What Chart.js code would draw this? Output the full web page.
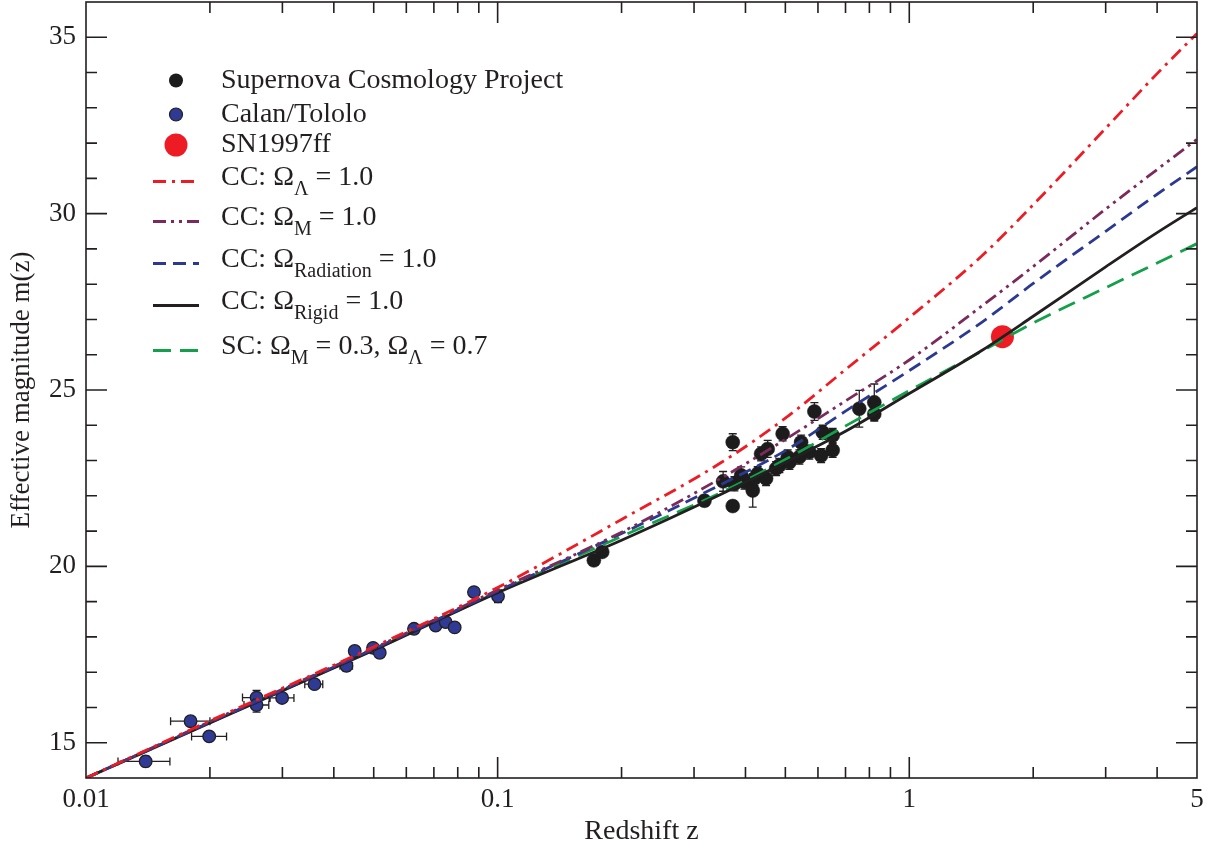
<!DOCTYPE html>
<html>
<head>
<meta charset="utf-8">
<title>Effective magnitude vs redshift</title>
<script src="https://cdn.jsdelivr.net/npm/chart.js@4.4.1/dist/chart.umd.min.js"></script>
<style>
  html, body { margin: 0; padding: 0; background: #fff; }
</style>
</head>
<body>
<canvas id="hubbleChart" width="1208" height="848"></canvas>
<script>
// model curves at these redshifts
const curveZ      = [0.01, 0.02, 0.05, 0.1, 0.2, 0.35, 0.5, 0.7, 1, 1.5, 2, 3, 4, 5];
const ccLambda    = [14.0, 15.62, 17.72, 19.40, 21.33, 22.95, 24.20, 25.58, 27.05, 28.80, 30.25, 32.42, 33.97, 35.11];
const ccMatter    = [14.0, 15.60, 17.68, 19.33, 20.97, 22.51, 23.60, 24.69, 25.85, 27.38, 28.50, 30.13, 31.25, 32.11];
const ccRadiation = [14.0, 15.58, 17.66, 19.30, 20.93, 22.33, 23.28, 24.40, 25.55, 26.92, 28.02, 29.50, 30.55, 31.33];
const ccRigid     = [14.0, 15.56, 17.62, 19.25, 20.74, 22.05, 22.95, 23.83, 24.90, 26.12, 27.09, 28.49, 29.46, 30.17];
const scModel     = [14.0, 15.57, 17.64, 19.27, 20.85, 22.10, 23.03, 23.98, 24.98, 26.10, 26.90, 27.90, 28.60, 29.15];

// Supernova Cosmology Project
const scpZ   = [0.1713, 0.1795, 0.318, 0.353, 0.3725, 0.3725, 0.376, 0.3905, 0.3978, 0.4166, 0.4206, 0.4284, 0.4365,
                0.4489, 0.4529, 0.4747, 0.4835, 0.4925, 0.5066, 0.5114, 0.5408, 0.546, 0.5719, 0.5882, 0.6107,
                0.6162, 0.6514, 0.6514, 0.756, 0.8222, 0.8222];
const scpM   = [20.17, 20.41, 21.86, 22.41, 23.52, 21.71, 22.34, 22.58, 22.39, 22.15, 22.49, 22.63, 23.19,
                22.49, 23.33, 22.77, 22.86, 23.76, 23.10, 22.95, 23.10, 23.52, 23.24, 24.39, 23.14,
                23.80, 23.71, 23.29, 24.47, 24.65, 24.32];
const scpErr = [0.12, 0.12, 0.15, 0.28, 0.24, 0.15, 0.20, 0.24, 0.20, 0.47, 0.20, 0.20, 0.20,
                0.20, 0.24, 0.20, 0.20, 0.20, 0.20, 0.20, 0.20, 0.20, 0.20, 0.25, 0.20,
                0.20, 0.20, 0.20, 0.52, 0.52, 0.20];

// Calan/Tololo
const ctZ    = [0.01396, 0.01795, 0.01992, 0.02596, 0.02596, 0.02995, 0.0359, 0.04292, 0.04496, 0.04982, 0.05171,
                0.06264, 0.07071, 0.07478, 0.07863, 0.0876, 0.1002];
const ctM    = [14.47, 15.61, 15.18, 16.28, 16.07, 16.27, 16.66, 17.18, 17.60, 17.69, 17.55,
                18.23, 18.32, 18.42, 18.27, 19.27, 19.15];
const ctZlo  = [0.01196, 0.01605, 0.01805, 0.0240, 0.0242, 0.0280, 0.0340, 0.0414, 0.0440, 0.0488, 0.0508,
                0.0615, 0.0695, 0.0735, 0.0775, 0.0866, 0.0990];
const ctZhi  = [0.01599, 0.0200, 0.02195, 0.02786, 0.0278, 0.0320, 0.0376, 0.0444, 0.0460, 0.0508, 0.0527,
                0.0638, 0.0719, 0.0761, 0.0798, 0.0886, 0.1015];
const ctErr  = [0.15, 0.12, 0.12, 0.20, 0.20, 0.12, 0.12, 0.15, 0.12, 0.12, 0.12,
                0.10, 0.10, 0.10, 0.10, 0.10, 0.18];

// SN1997ff
const ffZ = [1.684];
const ffM = [26.51];

const xTickValues = [0.01, 0.1, 1, 5];
const xTickLabels = ['0.01', '0.1', '1', '5'];
const yTickValues = [15, 20, 25, 30, 35];

const FONT = "'Liberation Serif', 'Times New Roman', serif";
const INK = '#231f20';
const RED = '#ed1c24', PURPLE = '#7a2b5c', BLUE = '#2b3990', GREEN = '#14a04a';

const pts = (xs, ys) => xs.map((x, i) => ({ x: x, y: ys[i] }));

function curve(values, color, dash) {
    return {
        data: pts(curveZ, values),
        borderColor: color,
        borderWidth: 2.8,
        borderDash: dash,
        pointRadius: 0,
        fill: false,
        cubicInterpolationMode: 'monotone'
    };
}

// keep the plot box where the reference has it
function fixBox(scale, size) {
    if (scale.isHorizontal()) scale.height = size; else scale.width = size;
    scale.paddingTop = 0;
    scale.paddingBottom = 0;
    scale.paddingLeft = 0;
    scale.paddingRight = 0;
}

// error bars go under the markers
const errorBars = {
    id: 'errorBars',
    beforeDatasetsDraw(chart) {
        const { ctx, scales: { x, y } } = chart;
        ctx.save();
        ctx.strokeStyle = INK;
        ctx.lineWidth = 1.3;
        const cap = 4;
        ctx.beginPath();
        scpZ.forEach((z, i) => {
            const px = x.getPixelForValue(z);
            const y1 = y.getPixelForValue(scpM[i] - scpErr[i]);
            const y2 = y.getPixelForValue(scpM[i] + scpErr[i]);
            ctx.moveTo(px, y1); ctx.lineTo(px, y2);
            ctx.moveTo(px - cap, y1); ctx.lineTo(px + cap, y1);
            ctx.moveTo(px - cap, y2); ctx.lineTo(px + cap, y2);
        });
        ctZ.forEach((z, i) => {
            const px = x.getPixelForValue(z);
            const py = y.getPixelForValue(ctM[i]);
            const y1 = y.getPixelForValue(ctM[i] - ctErr[i]);
            const y2 = y.getPixelForValue(ctM[i] + ctErr[i]);
            const x1 = x.getPixelForValue(ctZlo[i]);
            const x2 = x.getPixelForValue(ctZhi[i]);
            ctx.moveTo(px, y1); ctx.lineTo(px, y2);
            ctx.moveTo(px - cap, y1); ctx.lineTo(px + cap, y1);
            ctx.moveTo(px - cap, y2); ctx.lineTo(px + cap, y2);
            ctx.moveTo(x1, py); ctx.lineTo(x2, py);
            ctx.moveTo(x1, py - cap); ctx.lineTo(x1, py + cap);
            ctx.moveTo(x2, py - cap); ctx.lineTo(x2, py + cap);
        });
        ctx.stroke();
        ctx.restore();
    }
};

// box with inward ticks on all four sides
const frameTicks = {
    id: 'frameTicks',
    afterDraw(chart) {
        const { ctx, chartArea: a, scales: { x, y } } = chart;
        ctx.save();
        ctx.strokeStyle = INK;
        ctx.lineWidth = 1.6;
        ctx.strokeRect(a.left, a.top, a.right - a.left, a.bottom - a.top);
        ctx.beginPath();
        for (let v = 15; v <= 35; v++) {
            const len = v % 5 === 0 ? 21 : 11;
            const py = y.getPixelForValue(v);
            ctx.moveTo(a.left, py); ctx.lineTo(a.left + len, py);
            ctx.moveTo(a.right, py); ctx.lineTo(a.right - len, py);
        }
        [0.01, 0.1, 1].forEach(d => {
            for (let k = 1; k <= 9; k++) {
                const v = k * d;
                if (v <= 0.01 || v >= 5) continue;
                const len = k === 1 ? 21 : 11;
                const px = x.getPixelForValue(v);
                ctx.moveTo(px, a.bottom); ctx.lineTo(px, a.bottom - len);
                ctx.moveTo(px, a.top); ctx.lineTo(px, a.top + len);
            }
        });
        ctx.stroke();
        ctx.restore();
    }
};

// legend with subscripts
const legendRows = [
    { type: 'dot', color: '#1c1c1c', r: 7, y: 80.5, parts: [['Supernova Cosmology Project']] },
    { type: 'dot', color: '#2e3a93', r: 6.5, edge: true, y: 114.5, parts: [['Calan/Tololo']] },
    { type: 'dot', color: RED, r: 11.5, y: 145, parts: [['SN1997ff']] },
    { type: 'line', color: RED, dash: [13, 6, 3, 6], y: 178, parts: [['CC: Ω'], ['Λ', 1], [' = 1.0']] },
    { type: 'line', color: PURPLE, dash: [13, 5, 3, 5, 3, 5], y: 218, parts: [['CC: Ω'], ['M', 1], [' = 1.0']] },
    { type: 'line', color: BLUE, dash: [13, 7], y: 260, parts: [['CC: Ω'], ['Radiation', 1], [' = 1.0']] },
    { type: 'line', color: INK, dash: [], y: 302, parts: [['CC: Ω'], ['Rigid', 1], [' = 1.0']] },
    { type: 'line', color: GREEN, dash: [18, 9], y: 347, parts: [['SC: Ω'], ['M', 1], [' = 0.3, Ω'], ['Λ', 1], [' = 0.7']] }
];

const richLegend = {
    id: 'richLegend',
    afterDraw(chart) {
        const ctx = chart.ctx;
        ctx.save();
        legendRows.forEach(row => {
            if (row.type === 'dot') {
                ctx.beginPath();
                ctx.arc(176, row.y, row.r, 0, Math.PI * 2);
                ctx.fillStyle = row.color;
                ctx.fill();
                if (row.edge) { ctx.lineWidth = 1.2; ctx.strokeStyle = INK; ctx.stroke(); }
            } else {
                ctx.beginPath();
                ctx.setLineDash(row.dash);
                ctx.lineWidth = 2.8;
                ctx.strokeStyle = row.color;
                ctx.moveTo(153, row.y + 3.5);
                ctx.lineTo(199, row.y + 3.5);
                ctx.stroke();
                ctx.setLineDash([]);
            }
            let tx = 221;
            ctx.fillStyle = INK;
            ctx.textBaseline = 'middle';
            row.parts.forEach(([t, sub]) => {
                ctx.font = sub ? '20px ' + FONT : '28px ' + FONT;
                ctx.fillText(t, tx, sub ? row.y + 12 : row.y);
                tx += ctx.measureText(t).width;
            });
        });
        ctx.restore();
    }
};

const ctx = document.getElementById('hubbleChart').getContext('2d');

new Chart(ctx, {
    type: 'line',
    data: {
        datasets: [
            curve(ccLambda, RED, [13, 6, 3, 6]),
            curve(ccMatter, PURPLE, [13, 5, 3, 5, 3, 5]),
            curve(ccRadiation, BLUE, [13, 7]),
            curve(ccRigid, INK, []),
            curve(scModel, GREEN, [18, 9]),
            {
                data: pts(ffZ, ffM),
                showLine: false,
                pointRadius: 11.5,
                pointBackgroundColor: RED,
                pointBorderWidth: 0
            },
            {
                data: pts(scpZ, scpM),
                showLine: false,
                pointRadius: 7,
                pointBackgroundColor: '#1c1c1c',
                pointBorderColor: '#1c1c1c',
                pointBorderWidth: 0.5
            },
            {
                data: pts(ctZ, ctM),
                showLine: false,
                pointRadius: 6.3,
                pointBackgroundColor: '#2e3a93',
                pointBorderColor: INK,
                pointBorderWidth: 1.3
            }
        ]
    },
    options: {
        responsive: false,
        animation: false,
        events: [],
        layout: { autoPadding: false, padding: { top: 2, right: 11, left: 0, bottom: 0 } },
        plugins: {
            legend: { display: false },
            tooltip: { enabled: false }
        },
        scales: {
            x: {
                type: 'logarithmic',
                min: 0.01,
                max: 5,
                border: { display: false },
                grid: { display: false, drawTicks: false },
                afterBuildTicks: scale => { scale.ticks = xTickValues.map(v => ({ value: v })); },
                afterFit: scale => fixBox(scale, 70),
                ticks: {
                    autoSkip: false,
                    maxRotation: 0,
                    padding: 6,
                    color: INK,
                    font: { family: FONT, size: 27 },
                    callback: value => xTickLabels[xTickValues.indexOf(value)]
                },
                title: {
                    display: true,
                    text: 'Redshift z',
                    color: INK,
                    font: { family: FONT, size: 28 },
                    padding: { top: 0, bottom: 0 }
                }
            },
            y: {
                type: 'linear',
                min: 14,
                max: 36,
                border: { display: false },
                grid: { display: false, drawTicks: false },
                afterBuildTicks: scale => { scale.ticks = yTickValues.map(v => ({ value: v })); },
                afterFit: scale => fixBox(scale, 86),
                ticks: {
                    padding: 10,
                    color: INK,
                    font: { family: FONT, size: 27 }
                },
                title: {
                    display: true,
                    text: 'Effective magnitude m(z)',
                    color: INK,
                    font: { family: FONT, size: 27 },
                    padding: { top: 6, bottom: 0 }
                }
            }
        }
    },
    plugins: [errorBars, frameTicks, richLegend]
});
</script>
</body>
</html>
